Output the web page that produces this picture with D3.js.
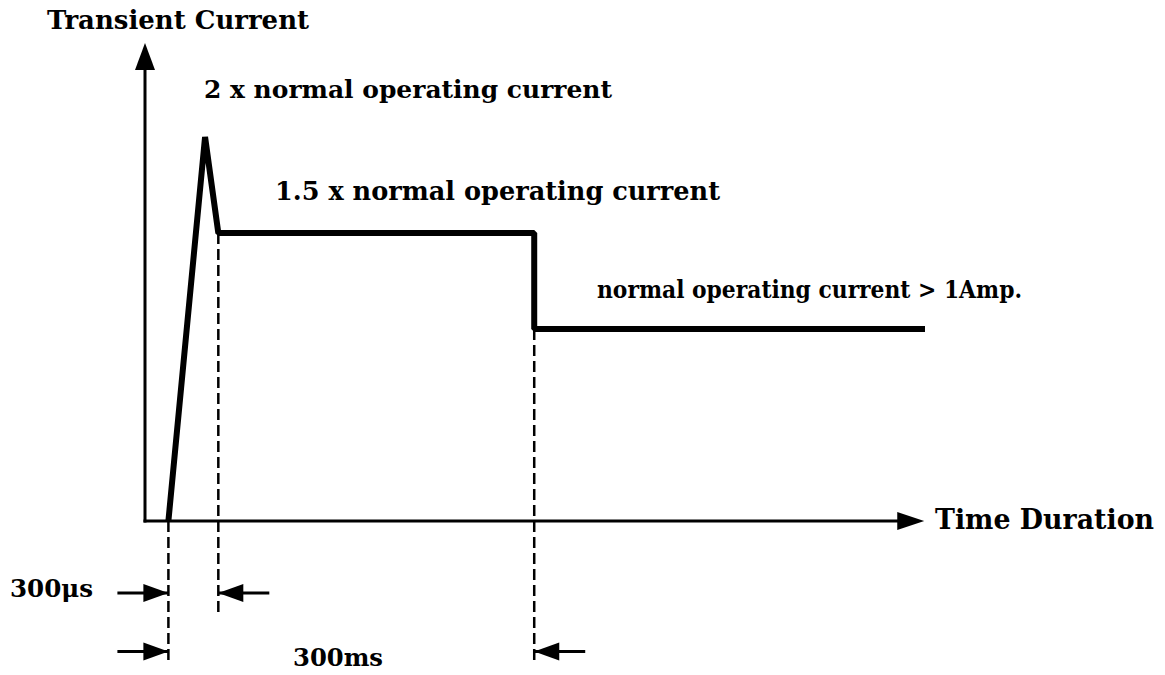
<!DOCTYPE html>
<html>
  <head>
    <meta charset="utf-8">
    <title>Transient Current</title>
    <script src="https://d3js.org/d3.v7.min.js"></script>
    <style>
      body { margin: 0; background: #fff; }
      text { font-family: "DejaVu Serif", serif; font-weight: bold; fill: #000; }
    </style>
  </head>
  <body>
  <script type="text/javascript">
    // waveform, time in schematic units, current in multiples of normal current
    var waveTime = [3, 7.7, 9.4, 49.9, 49.9, 100];
    var waveCurrent = [0, 2, 1.5, 1.5, 1, 1];

    // dashed marker lines: time and lower end (current units, below the axis)
    var markTime = [3, 9.4, 49.9];
    var markEnd = [-0.74, -0.49, -0.74];

    // dimension arrows: time of tip, side, row level
    var dimTime = [3, 9.4, 3, 49.9];
    var dimSide = [-1, 1, -1, 1];
    var dimLevel = [-0.375, -0.375, -0.68, -0.68];

    var labels = ["Transient Current", "2 x normal operating current",
      "1.5 x normal operating current", "normal operating current > 1Amp.",
      "Time Duration", "300\u03bcs", "300ms"];

    var svg = d3.select("body").append("svg")
      .attr("width", 1165)
      .attr("height", 675);

    var x = d3.scaleLinear().domain([0, 100]).range([145, 925]);
    var y = d3.scaleLinear().domain([0, 2]).range([521, 137]);

    // axes
    svg.append("line")
      .attr("x1", x(0)).attr("y1", y(0) + 1.5)
      .attr("x2", x(0)).attr("y2", y(2.4))
      .attr("stroke", "#000").attr("stroke-width", 3);
    svg.append("path")
      .attr("d", "M" + x(0) + "," + y(2.49) + "l-10,27l20,0z")
      .attr("fill", "#000");

    svg.append("line")
      .attr("x1", x(0) - 1.5).attr("y1", y(0))
      .attr("x2", x(97)).attr("y2", y(0))
      .attr("stroke", "#000").attr("stroke-width", 3);
    svg.append("path")
      .attr("d", "M" + x(99.9) + "," + y(0) + "l-27,-9l0,18z")
      .attr("fill", "#000");

    // dashed markers
    svg.selectAll(".mark")
      .data(markTime)
      .enter().append("line")
        .attr("class", "mark")
        .attr("x1", function(d){ return x(d); })
        .attr("x2", function(d){ return x(d); })
        .attr("y1", function(d){ return y(waveCurrent[waveTime.indexOf(d)]); })
        .attr("y2", function(d, i){ return y(markEnd[i]); })
        .attr("stroke", "#000")
        .attr("stroke-width", 2.5)
        .attr("stroke-dasharray", "11,5");

    // dimension arrows
    svg.selectAll(".dim")
      .data(dimTime)
      .enter().append("g")
        .attr("class", "dim")
        .each(function(d, i){
          var tx = x(d), ty = y(dimLevel[i]), s = dimSide[i];
          d3.select(this).append("line")
            .attr("x1", tx).attr("y1", ty)
            .attr("x2", tx + s * 51).attr("y2", ty)
            .attr("stroke", "#000").attr("stroke-width", 3);
          d3.select(this).append("path")
            .attr("d", "M" + tx + "," + ty + "l" + (s * 25) + ",-9l0,18z")
            .attr("fill", "#000");
        });

    // waveform
    var line = d3.line()
      .x(function(d, i){ return x(waveTime[i]); })
      .y(function(d){ return y(d); });

    svg.append("path")
      .datum(waveCurrent)
      .attr("d", line)
      .attr("fill", "none")
      .attr("stroke", "#000")
      .attr("stroke-width", 6)
      .attr("stroke-linejoin", "bevel");

    // labels
    var labelX = [47, 204, 275, 597, 935, 10, 293];
    var labelY = [29, 98, 200, 298, 529, 597, 666];
    var labelSize = [26, 25, 25.5, 24, 27, 24.5, 24.5];
    var labelLen = [262, 408, 445, 425, 219, 83, 90];

    svg.selectAll(".lab")
      .data(labels)
      .enter().append("text")
        .attr("class", "lab")
        .attr("x", function(d, i){ return labelX[i]; })
        .attr("y", function(d, i){ return labelY[i]; })
        .attr("textLength", function(d, i){ return labelLen[i]; })
        .attr("lengthAdjust", "spacingAndGlyphs")
        .style("font-size", function(d, i){ return labelSize[i] + "px"; })
        .text(function(d){ return d; });
  </script>
  </body>
</html>
